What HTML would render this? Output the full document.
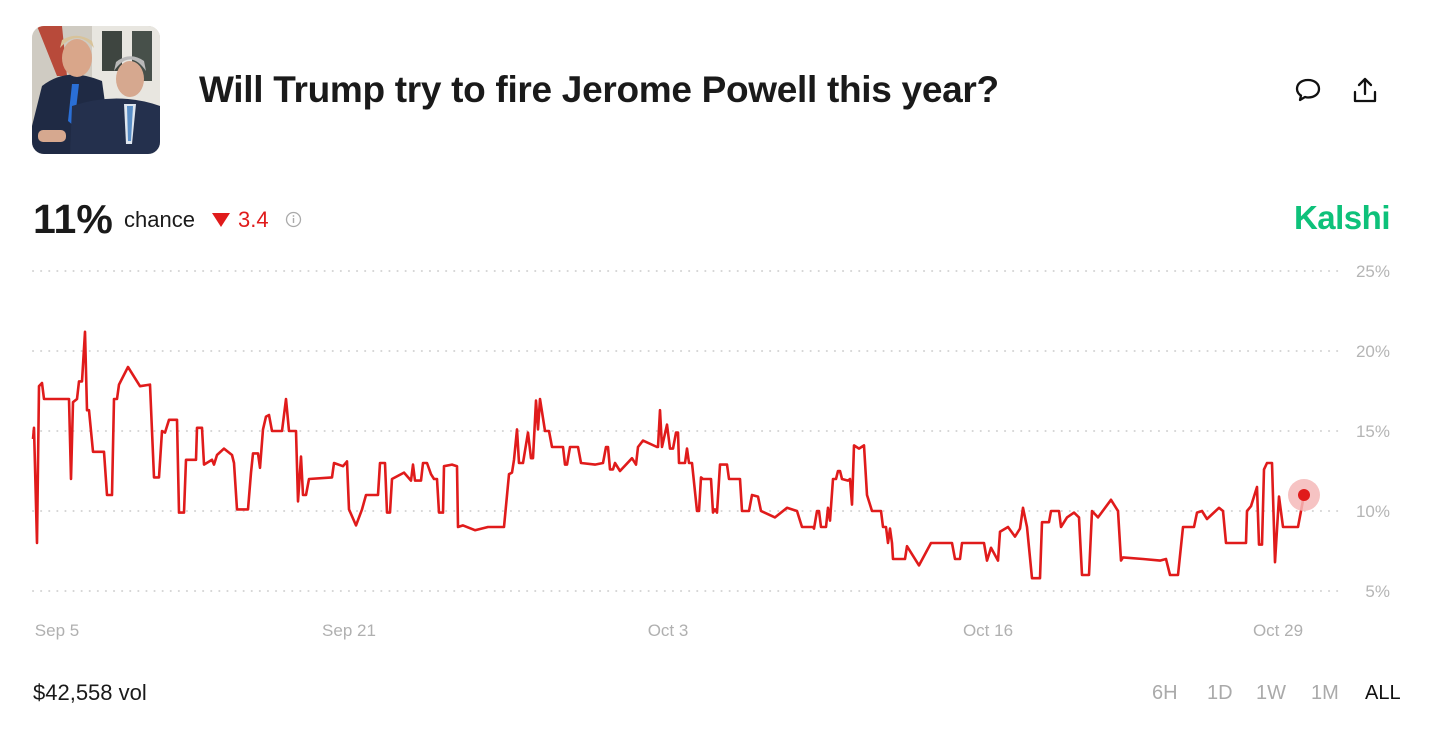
<!DOCTYPE html>
<html><head><meta charset="utf-8">
<style>
body{margin:0;width:1430px;height:738px;background:#fff;font-family:"Liberation Sans",sans-serif;position:relative;overflow:hidden;color:#1a1a1a}
.abs{position:absolute}
</style></head><body>
<div class="abs" style="left:32px;top:26px;width:128px;height:128px;border-radius:12px;overflow:hidden;background:#d9d6cf">
<svg width="128" height="128" viewBox="0 0 128 128">
<rect width="128" height="128" fill="#cfcbc2"/>
<rect x="60" y="0" width="68" height="80" fill="#e8e6e0"/>
<rect x="70" y="5" width="20" height="40" fill="#3e4540"/><rect x="100" y="5" width="20" height="50" fill="#47504a"/>
<path d="M5 0 L30 0 L35 50 L25 50Z" fill="#b84a3a"/>
<path d="M10 60 Q35 40 70 55 L80 128 L0 128 L0 100Z" fill="#1f2a44"/>
<ellipse cx="45" cy="32" rx="15" ry="19" fill="#d9a68a"/>
<path d="M28 22 Q45 2 62 22 L60 15 Q45 5 30 14Z" fill="#d8c39a"/>
<path d="M40 58 L47 58 L42 100 L36 95Z" fill="#2a6fd6"/>
<path d="M40 80 Q85 65 128 80 L128 128 L38 128Z" fill="#24304d"/>
<ellipse cx="98" cy="53" rx="14" ry="18" fill="#d6a88f"/>
<path d="M82 45 Q98 22 114 45 L112 35 Q98 25 84 36Z" fill="#b9b9b9"/>
<path d="M92 78 L104 78 L100 118 L94 118Z" fill="#dfe6ef"/>
<path d="M95 80 L101 80 L99 115 L96 115Z" fill="#5a8fc8"/>
<rect x="6" y="104" width="28" height="12" rx="5" fill="#d6a88f"/>
</svg></div>
<div class="abs" style="left:199px;top:69px;font-size:37px;font-weight:bold;letter-spacing:-0.3px;white-space:nowrap">Will Trump try to fire Jerome Powell this year?</div>
<svg class="abs" style="left:1294px;top:76px" width="28" height="28" viewBox="0 0 28 28"><path d="M14 4 C7 4 3 8 3 13 C3 16 5 18.5 7 19.5 L6 24 L11 21 C12 21.3 13 21.5 14 21.5 C21 21.5 25 17.5 25 13 C25 8 21 4 14 4Z" fill="none" stroke="#111" stroke-width="2.3" stroke-linejoin="round"/></svg>
<svg class="abs" style="left:1351px;top:75px" width="28" height="30" viewBox="0 0 28 30"><path d="M14 19 V4 M8 10 L14 4 L20 10 M4 17 V26 H24 V17" fill="none" stroke="#111" stroke-width="2.3" stroke-linejoin="round" stroke-linecap="round"/></svg>
<div class="abs" style="left:33px;top:196px;font-size:41px;font-weight:bold">11%</div>
<div class="abs" style="left:124px;top:207px;font-size:22px">chance</div>
<svg class="abs" style="left:211px;top:212px" width="20" height="16"><path d="M1 1 H19 L10 15Z" fill="#e01b1b"/></svg>
<div class="abs" style="left:238px;top:207px;font-size:22px;color:#e01b1b">3.4</div>
<svg class="abs" style="left:285px;top:211px" width="17" height="17"><circle cx="8.5" cy="8.5" r="7" fill="none" stroke="#aaa" stroke-width="1.3"/><rect x="7.8" y="7" width="1.4" height="5" fill="#aaa"/><circle cx="8.5" cy="5" r="0.9" fill="#aaa"/></svg>
<div class="abs" style="right:40px;top:199px;font-size:33px;font-weight:bold;color:#0ec17a;letter-spacing:-0.5px">Kalshi</div>

<svg id="chart" class="abs" style="left:0;top:0" width="1430" height="660"></svg>

<div class="abs" style="left:33px;top:680px;font-size:22px">$42,558 vol</div>
<div class="abs" style="left:1152px;top:682px;font-size:20px;color:#aaa">6H</div>
<div class="abs" style="left:1207px;top:682px;font-size:20px;color:#aaa">1D</div>
<div class="abs" style="left:1256px;top:682px;font-size:20px;color:#aaa">1W</div>
<div class="abs" style="left:1311px;top:682px;font-size:20px;color:#aaa">1M</div>
<div class="abs" style="left:1365px;top:682px;font-size:20px;color:#111">ALL</div>

<script>
const times=[0,0.1,0.4,0.6,0.9,1.1,3.6,3.8,4.0,4.4,4.6,4.9,5.2,5.4,5.6,6.0,7.1,7.4,7.9,8.1,8.4,8.6,9.5,10.7,11.7,12.1,12.6,12.9,13.2,13.6,14.4,14.6,15.1,15.3,16.3,16.4,16.9,17.1,17.9,18.1,18.4,19.1,19.9,20.1,20.4,21.5,21.8,22.0,22.5,22.7,23.0,23.3,23.6,23.9,24.9,25.3,25.6,26.3,26.5,26.8,27.0,27.3,27.6,29.9,30.1,31.0,31.4,31.6,32.3,32.9,33.3,34.5,34.7,35.2,35.4,35.7,35.9,37.1,37.8,38.0,38.2,38.8,39.0,39.4,39.8,40.1,40.4,40.6,41.0,41.1,41.9,42.4,42.5,43.0,44.2,45.5,47.1,47.6,47.9,48.1,48.4,48.6,49.0,49.5,49.8,50.0,50.3,50.5,50.7,51.2,51.6,51.9,53.0,53.2,53.4,53.7,54.5,54.8,56.2,57.0,57.3,57.5,57.7,58.0,58.2,58.7,59.9,60.3,60.5,61.0,62.4,62.5,62.7,62.9,63.4,63.7,64.0,64.3,64.5,64.6,65.2,65.4,65.6,65.9,66.4,66.6,66.8,67.0,67.8,68.0,68.2,68.4,68.7,69.4,69.6,70.7,70.9,71.6,71.9,72.5,72.8,74.2,75.4,76.4,76.9,78.0,78.1,78.4,78.6,78.8,79.3,79.5,79.7,80.0,80.3,80.5,80.7,80.9,81.5,81.7,81.9,82.1,82.6,83.1,83.4,83.9,84.8,85.0,85.3,85.5,85.7,85.9,86.0,87.2,87.4,88.6,89.8,91.9,92.2,92.7,92.9,95.1,95.4,95.8,96.5,96.7,97.5,98.2,98.7,99.0,99.4,99.9,100.7,100.9,101.6,101.8,102.6,102.8,103.4,104.1,104.6,104.9,105.6,105.9,106.5,107.8,108.5,108.8,109.0,111.0,112.7,113.3,113.7,114.5,115.0,116.1,116.4,116.9,117.4,118.6,119.0,119.3,121.3,121.4,121.8,122.4,122.6,122.9,123.1,123.4,123.9,124.2,124.6,125.0,126.5,127.1];
const values=[14.5,15.2,8.0,17.8,18.0,17.0,17.0,12.0,16.8,17.0,18.1,18.1,21.2,16.3,16.3,13.7,13.7,11.0,11.0,17.0,17.0,17.9,19.0,17.8,17.9,12.1,12.1,15.0,14.9,15.7,15.7,9.9,9.9,13.2,13.2,15.2,15.2,12.9,13.2,12.9,13.5,13.9,13.5,13.0,10.1,10.1,12.4,13.6,13.6,12.7,15.1,15.9,16.0,15.0,15.0,17.0,15.0,15.0,10.6,13.4,11.0,11.0,12.0,12.1,13.0,12.8,13.1,10.1,9.1,10.1,11.0,11.0,13.0,13.0,9.9,9.9,12.0,12.4,11.9,12.9,11.9,11.9,13.0,13.0,12.3,12.0,12.0,9.9,9.9,12.8,12.9,12.8,9.0,9.1,8.8,9.0,9.0,12.3,12.4,13.2,15.1,13.0,13.0,14.9,13.3,13.3,16.9,15.1,17.0,15.0,15.0,14.0,14.0,12.9,12.9,14.0,14.0,13.0,12.9,13.0,14.0,14.0,12.6,12.6,13.0,12.5,13.3,12.9,14.0,14.4,14.0,14.0,16.3,14.0,15.4,13.9,13.9,14.9,14.9,13.0,13.0,13.9,13.0,13.0,10.0,10.0,12.1,12.0,12.0,9.9,10.1,9.9,12.9,12.9,12.0,12.0,10.0,10.0,11.0,10.9,10.0,9.6,10.2,10.0,9.0,9.0,8.9,10.0,10.0,9.0,9.0,10.2,9.4,12.0,12.0,12.5,12.5,12.0,11.9,12.0,10.4,14.1,13.9,14.1,11.0,10.0,10.0,9.0,9.0,8.0,8.9,8.0,7.0,7.0,7.8,6.6,8.0,8.0,7.0,7.0,8.0,8.0,6.9,7.7,6.9,8.7,9.0,8.4,8.9,10.2,9.0,5.8,5.8,9.3,9.3,10.0,10.0,9.0,9.6,9.9,9.6,6.0,6.0,10.0,9.6,10.7,10.0,6.9,7.1,7.0,6.9,7.0,6.0,6.0,9.0,9.0,9.9,10.0,9.5,10.2,10.0,8.0,8.0,10.0,10.3,11.5,7.9,7.9,12.6,13.0,13.0,6.8,10.9,9.0,9.0,11.0];
const yTicks=[5,10,15,20,25];
const yTickLabels=["5%","10%","15%","20%","25%"];
const xTickTimes=[2.4,31.6,63.5,95.5,124.5];
const xTickLabels=["Sep 5","Sep 21","Oct 3","Oct 16","Oct 29"];

const T0=0,T1=127.2,X0=33,X1=1305;
const V0=5,V1=25,Y0=591,Y1=271;
const xs=t=>X0+(t-T0)/(T1-T0)*(X1-X0);
const ys=v=>Y0+(v-V0)/(V1-V0)*(Y1-Y0);
const svg=document.getElementById('chart');
const NS='http://www.w3.org/2000/svg';
function mk(tag,attrs){const e=document.createElementNS(NS,tag);for(const k in attrs)e.setAttribute(k,attrs[k]);svg.appendChild(e);return e;}
yTicks.forEach((v,i)=>{
  const l=mk('line',{x1:33,x2:1340,y1:ys(v),y2:ys(v),stroke:'#d4d4d4','stroke-width':2,'stroke-dasharray':'0.1 8','stroke-linecap':'round'});
  
  
  const t=mk('text',{x:1390,y:ys(v)+6,'text-anchor':'end','font-size':17,fill:'#b5b5b5','font-family':'Liberation Sans, sans-serif'});
  t.textContent=yTickLabels[i];
  
  
});
xTickTimes.forEach((tt,i)=>{
  const t=mk('text',{x:xs(tt),y:636,'text-anchor':'middle','font-size':17,fill:'#b0b0b0','font-family':'Liberation Sans, sans-serif'});
  t.textContent=xTickLabels[i];
  
  
});
const d=times.map((t,i)=>(i?'L':'M')+xs(t).toFixed(1)+' '+ys(values[i]).toFixed(1)).join(' ');
const p=mk('path',{d:d,fill:'none',stroke:'#e01b1b','stroke-width':2.6,'stroke-linejoin':'round'});


const n=times.length-1;
const halo=mk('circle',{cx:xs(times[n]),cy:ys(values[n]),r:16,fill:'#f4b8b8',opacity:0.85});


const dot=mk('circle',{cx:xs(times[n]),cy:ys(values[n]),r:6,fill:'#e01b1b'});


</script>
</body></html>
